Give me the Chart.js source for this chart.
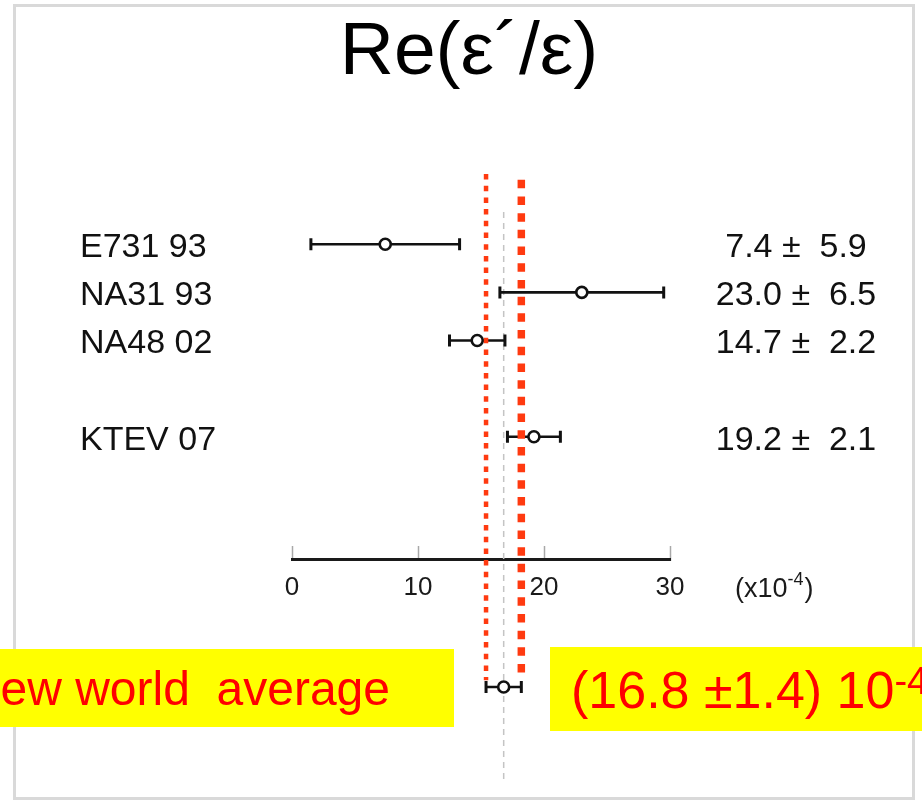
<!DOCTYPE html>
<html>
<head>
<meta charset="utf-8">
<script src="https://cdn.jsdelivr.net/npm/chart.js@4.4.1/dist/chart.umd.min.js"></script>
<style>
  html, body { margin: 0; padding: 0; background: #fff; }
  canvas { display: block; }
</style>
</head>
<body>
<canvas id="chart" width="922" height="801"></canvas>
<script>
// Measurements of Re(eps'/eps), in units of 1e-4
const experiments = ['E731 93', 'NA31 93', 'NA48 02', 'KTEV 07'];
const values = [7.4, 23.0, 14.7, 19.2];
const errors = [5.9, 6.5, 2.2, 2.1];
const rows = [1, 2, 3, 5];

// World average
const averageValue = 16.8;
const averageError = 1.4;
const averageRow = 10.2;
const averageLabel = 'New world  average';
const averageText = '(16.8 ±1.4) 10';
const averageExp = '-4';

// Axis
const xTickValues = [0, 10, 20, 30];
const xUnitText = '(x10';
const xUnitExp = '-4';
const titleText = 'Re(ε´/ε)';

// Vertical extents (in row units) of the reference lines and the axis row
const bandLowRows = [-0.46, 10.06];
const bandHighRows = [-0.34, 10.05];
const centreRows = [0.33, 12.2];
const axisRow = 7.56;

const FONT = '"Liberation Sans", Arial, Helvetica, sans-serif';
const BAND_RED = '#ff3a10';

const measurementPoints = values.map((v, i) => ({ x: v, y: rows[i], err: errors[i] }));
measurementPoints.push({ x: averageValue, y: averageRow, err: averageError });

const decor = {
  id: 'decor',
  beforeDraw(chart) {
    const ctx = chart.ctx;
    ctx.save();
    ctx.fillStyle = '#fff';
    ctx.fillRect(0, 0, chart.width, chart.height);
    // slide frame
    ctx.strokeStyle = '#d9d9d9';
    ctx.lineWidth = 3;
    ctx.strokeRect(14.5, 5.5, 899, 793);
    // title
    ctx.fillStyle = '#000';
    ctx.font = `75px ${FONT}`;
    ctx.textAlign = 'center';
    ctx.textBaseline = 'alphabetic';
    ctx.fillText(titleText, 469, 74);
    ctx.restore();
  },
  beforeDatasetDraw(chart, args) {
    const ds = chart.data.datasets[args.index];
    if (ds.label !== 'measurements') return;
    const ctx = chart.ctx;
    const xs = chart.scales.x, ys = chart.scales.y;
    ctx.save();
    ctx.strokeStyle = '#111';
    ctx.lineCap = 'butt';
    for (const p of ds.data) {
      const yp = ys.getPixelForValue(p.y);
      const x0 = xs.getPixelForValue(p.x - p.err);
      const x1 = xs.getPixelForValue(p.x + p.err);
      ctx.lineWidth = 2.6;
      ctx.beginPath();
      ctx.moveTo(x0, yp);
      ctx.lineTo(x1, yp);
      ctx.stroke();
      ctx.lineWidth = 3;
      ctx.beginPath();
      ctx.moveTo(x0, yp - 6);
      ctx.lineTo(x0, yp + 6);
      ctx.moveTo(x1, yp - 6);
      ctx.lineTo(x1, yp + 6);
      ctx.stroke();
    }
    ctx.restore();
  },
  afterDraw(chart) {
    const ctx = chart.ctx;
    const ys = chart.scales.y;
    ctx.save();
    ctx.fillStyle = '#111';
    ctx.textBaseline = 'alphabetic';
    ctx.font = `34px ${FONT}`;
    experiments.forEach((name, i) => {
      const yp = ys.getPixelForValue(rows[i]) + 12.8;
      ctx.textAlign = 'left';
      ctx.fillText(name, 80, yp);
      ctx.textAlign = 'center';
      ctx.fillText(`${values[i].toFixed(1)} ±  ${errors[i].toFixed(1)}`, 796, yp);
    });

    // axis unit
    const axisY = ys.getPixelForValue(axisRow);
    ctx.fillStyle = '#1a1a1a';
    ctx.textAlign = 'left';
    ctx.font = `27px ${FONT}`;
    let ux = 735;
    ctx.fillText(xUnitText, ux, axisY + 37);
    ux += ctx.measureText(xUnitText).width;
    ctx.font = `18px ${FONT}`;
    ctx.fillText(xUnitExp, ux, axisY + 25);
    ux += ctx.measureText(xUnitExp).width;
    ctx.font = `27px ${FONT}`;
    ctx.fillText(')', ux + 1, axisY + 37);

    // world average banners
    ctx.fillStyle = '#ffff00';
    ctx.fillRect(0, 649, 454, 78);
    ctx.fillRect(550, 647, 372, 84);
    ctx.fillStyle = '#ff0000';
    ctx.font = `48px ${FONT}`;
    ctx.textAlign = 'right';
    ctx.fillText(averageLabel, 390, 705);
    ctx.textAlign = 'left';
    ctx.font = `52px ${FONT}`;
    let tx = 571;
    ctx.fillText(averageText, tx, 708);
    tx += ctx.measureText(averageText).width;
    ctx.font = `38px ${FONT}`;
    ctx.fillText(averageExp, tx, 694);
    ctx.restore();
  }
};

Chart.defaults.font.family = FONT;

new Chart(document.getElementById('chart'), {
  type: 'scatter',
  data: {
    datasets: [
      {
        type: 'line',
        label: 'band low',
        data: bandLowRows.map(r => ({ x: averageValue - averageError, y: r })),
        borderColor: BAND_RED,
        borderWidth: 4.5,
        borderDash: [5.5, 6.2],
        pointRadius: 0,
        fill: false,
        clip: false,
        order: 0
      },
      {
        type: 'line',
        label: 'band high',
        data: bandHighRows.map(r => ({ x: averageValue + averageError, y: r })),
        borderColor: BAND_RED,
        borderWidth: 7.5,
        borderDash: [8.5, 8.2],
        pointRadius: 0,
        fill: false,
        clip: false,
        order: 0
      },
      {
        type: 'scatter',
        label: 'measurements',
        data: measurementPoints,
        pointStyle: 'circle',
        pointRadius: 5.5,
        pointHoverRadius: 5.5,
        borderWidth: 2.6,
        borderColor: '#111',
        backgroundColor: '#fff',
        clip: false,
        order: 1
      },
      {
        type: 'line',
        label: 'average',
        data: centreRows.map(r => ({ x: averageValue, y: r })),
        borderColor: '#c4c4c4',
        borderWidth: 1.5,
        borderDash: [6, 5],
        pointRadius: 0,
        fill: false,
        clip: false,
        order: 2
      }
    ]
  },
  options: {
    responsive: false,
    animation: false,
    events: [],
    layout: { padding: { left: 292, right: 252, top: 148, bottom: 6.4 } },
    plugins: { legend: { display: false }, tooltip: { enabled: false }, title: { display: false } },
    scales: {
      x: {
        type: 'linear',
        min: 0,
        max: 30,
        position: { y: axisRow },
        afterBuildTicks: s => { s.ticks = xTickValues.map(v => ({ value: v })); },
        ticks: { color: '#1a1a1a', font: { size: 26 }, padding: 27, maxRotation: 0 },
        grid: { drawOnChartArea: false, drawTicks: true, tickLength: -15, tickColor: '#a8a8a8', tickWidth: 1.5 },
        border: { display: true, color: '#1a1a1a', width: 3 }
      },
      y: {
        type: 'linear',
        reverse: true,
        min: -1,
        max: 12.4,
        display: false
      }
    }
  },
  plugins: [decor]
});
</script>
</body>
</html>
